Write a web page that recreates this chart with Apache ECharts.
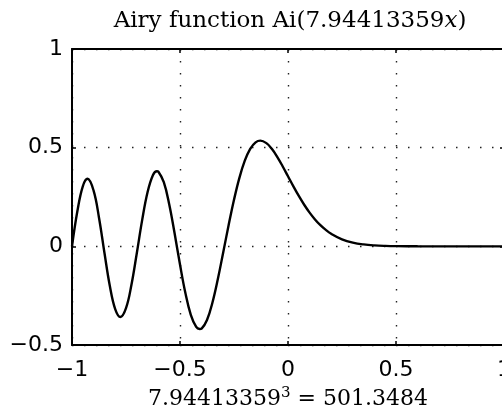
<!DOCTYPE html>
<html>
<head>
<meta charset="utf-8">
<script src="https://cdn.jsdelivr.net/npm/echarts@6/dist/echarts.min.js"></script>
<style>
html,body{margin:0;padding:0;background:#fff;}
#c{width:502px;height:414px;}
</style>
</head>
<body>
<div id="c"></div>
<script>
// Sample points (x, Ai(7.94413359 x))
var xs = [-1.000,-0.975,-0.950,-0.928,-0.900,-0.875,-0.850,-0.825,-0.800,-0.776,-0.750,-0.725,-0.700,
          -0.675,-0.650,-0.625,-0.607,-0.600,-0.575,-0.550,-0.525,-0.500,-0.475,-0.450,-0.425,-0.409,
          -0.400,-0.375,-0.350,-0.325,-0.300,-0.275,-0.250,-0.225,-0.200,-0.175,-0.150,-0.128,-0.100,
          -0.075,-0.050,-0.025,0.000,0.025,0.050,0.075,0.100,0.125,0.150,0.175,0.200,0.250,0.300,
          0.350,0.400,0.450,0.500,0.600,0.700,0.800,1.000];
var ys = [0.0000,0.1787,0.3043,0.3423,0.2824,0.1452,-0.0311,-0.1996,-0.3177,-0.3579,-0.3131,-0.1959,-0.0349,
          0.1339,0.2751,0.3614,0.3804,0.3781,0.3248,0.2137,0.0661,-0.0924,-0.2370,-0.3469,-0.4086,-0.4190,
          -0.4166,-0.3729,-0.2856,-0.1670,-0.0310,0.1067,0.2360,0.3471,0.4340,0.4940,0.5271,0.5357,0.5230,
          0.4941,0.4536,0.4059,0.3550,0.3041,0.2554,0.2107,0.1709,0.1364,0.1072,0.0831,0.0635,0.0357,0.0190,
          0.0097,0.0047,0.0022,0.0010,0.0002,0.0000,0.0000,0.0000];
var xTicks = {min:-1, max:1, step:0.5};
var yTicks = {min:-0.5, max:1, step:0.5};
var titleText = 'Airy function Ai(7.94413359{i|x})';
var xName = '7.94413359{s|3} = 501.3484';

var data = xs.map(function(x,i){return [x, ys[i]];});
function fmt(v){ var s = String(Math.round(v*100)/100); return s.replace('-', '\u2212'); }

var tickFont = {fontFamily:'DejaVu Sans', fontSize:22, color:'#000'};
var grid = {left:72, top:49, width:432, height:296, containLabel:false, outerBoundsMode:'none'};
var dotted = {show:true, lineStyle:{color:'#222', width:1.4, type:[1.5,10.5]}};
var frameLine = {show:true, onZero:false, lineStyle:{color:'#000', width:2}};
var tick = {show:true, inside:true, length:4, lineStyle:{color:'#000', width:1.5}};

var chart = echarts.init(document.getElementById('c'), null, {renderer:'canvas'});
chart.setOption({
  animation:false,
  backgroundColor:'#fff',
  grid: grid,
  xAxis:[{
    type:'value', min:xTicks.min, max:xTicks.max, interval:xTicks.step, position:'bottom',
    axisLine:frameLine, axisTick:tick, splitLine:dotted,
    axisLabel:Object.assign({margin:14, formatter:fmt, showMinLabel:true, showMaxLabel:true, hideOverlap:false}, tickFont)
  },{
    type:'value', min:xTicks.min, max:xTicks.max, interval:xTicks.step, position:'top',
    axisLine:frameLine, axisTick:tick, splitLine:{show:false}, axisLabel:{show:false}
  }],
  yAxis:[{
    type:'value', min:yTicks.min, max:yTicks.max, interval:yTicks.step, position:'left',
    axisLine:frameLine, axisTick:tick, splitLine:dotted,
    axisLabel:Object.assign({margin:9, formatter:fmt}, tickFont)
  },{
    type:'value', min:yTicks.min, max:yTicks.max, interval:yTicks.step, position:'right',
    axisLine:frameLine, axisTick:tick, splitLine:{show:false}, axisLabel:{show:false}
  }],
  series:[{
    type:'line', data:data, xAxisIndex:0, yAxisIndex:0, smooth:0.4, showSymbol:false, symbol:'none',
    lineStyle:{color:'#000', width:2.4}, z:5
  }],
  graphic:[{
    type:'text', x:290, y:21, z:10,
    style:{text:titleText, x:0, y:0, align:'center', verticalAlign:'middle',
      font:'23px "DejaVu Serif"', fill:'#000',
      rich:{i:{fontFamily:'DejaVu Serif', fontSize:23, fontStyle:'italic', fill:'#000'}}}
  },{
    type:'text', x:288, y:399, z:10,
    style:{text:xName, x:0, y:0, align:'center', verticalAlign:'middle',
      font:'22px "DejaVu Serif"', fill:'#000',
      rich:{s:{fontFamily:'DejaVu Serif', fontSize:15, fill:'#000', padding:[0,0,12,0]}}}
  }]
});
</script>
</body>
</html>
